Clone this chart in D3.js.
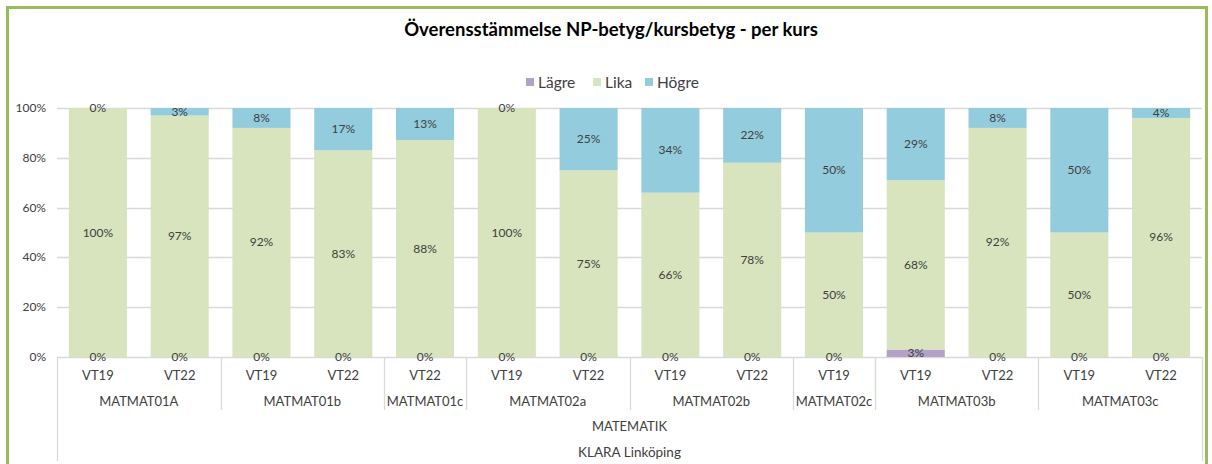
<!DOCTYPE html>
<html>
<head>
<meta charset="utf-8">
<script src="https://cdn.jsdelivr.net/npm/d3@7"></script>
<style>
  body { margin: 0; background: #fff; }
  text { font-family: Lato, "DejaVu Sans", sans-serif; }
</style>
</head>
<body>
<svg id="chart" width="1212" height="464"></svg>
<script>
// data
const groups = ["MATMAT01A", "MATMAT01A", "MATMAT01b", "MATMAT01b", "MATMAT01c", "MATMAT02a", "MATMAT02a",
  "MATMAT02b", "MATMAT02b", "MATMAT02c", "MATMAT03b", "MATMAT03b", "MATMAT03c", "MATMAT03c"]
const terms = ["VT19", "VT22", "VT19", "VT22", "VT22", "VT19", "VT22", "VT19", "VT22", "VT19", "VT19", "VT22", "VT19", "VT22"]
const lagre = [0, 0, 0, 0, 0, 0, 0, 0, 0, 0, 3, 0, 0, 0]
const lika  = [100, 97, 92, 83, 88, 100, 75, 66, 78, 50, 68, 92, 50, 96]
const hogre = [0, 3, 8, 17, 13, 0, 25, 34, 22, 50, 29, 8, 50, 4]
const seriesNames = ["Lägre", "Lika", "Högre"]
const seriesColors = ["#b3a2c7", "#d7e4bd", "#93cddd"]
const yTicks = [0, 0.2, 0.4, 0.6, 0.8, 1]

const svg = d3.select("#chart")
const plot = { left: 57, right: 1202, top: 108, bottom: 357 }
const textColor = "#404040"

// outer border
svg.append("rect")
  .attr("x", 7.5).attr("y", 7.5)
  .attr("width", 1199).attr("height", 480)
  .attr("fill", "none").attr("stroke", "#9bbb59").attr("stroke-width", 3)

svg.append("text").text("Överensstämmelse NP-betyg/kursbetyg - per kurs")
  .attr("x", 611).attr("y", 36)
  .attr("text-anchor", "middle")
  .attr("font-size", "18.5px").attr("font-weight", "bold").attr("fill", "#000")

const rows = terms.map((t, i) => ({ idx: i, Lägre: lagre[i], Lika: lika[i], Högre: hogre[i] }))
const stacked = d3.stack().keys(seriesNames).offset(d3.stackOffsetExpand)(rows)

const x = d3.scaleBand().domain(d3.range(terms.length))
  .range([plot.left, plot.right]).paddingInner(0.29).paddingOuter(0.145)
const y = d3.scaleLinear().domain([0, 1]).range([plot.bottom, plot.top])

// gridlines
svg.append("g").selectAll("line").data(yTicks).join("line")
  .attr("x1", plot.left).attr("x2", plot.right)
  .attr("y1", d => Math.round(y(d)) + 0.5).attr("y2", d => Math.round(y(d)) + 0.5)
  .attr("stroke", "#d9d9d9").attr("stroke-width", 1.3)

svg.append("g").selectAll("text").data(yTicks).join("text")
  .text(d3.format(".0%"))
  .attr("x", 46).attr("y", d => y(d) + 4)
  .attr("text-anchor", "end").attr("font-size", "12px").attr("fill", textColor)

// bars
const layer = svg.append("g").selectAll("g").data(stacked).join("g")
  .attr("fill", (d, i) => seriesColors[i])
layer.selectAll("rect").data(d => d).join("rect")
  .attr("x", (d, i) => x(i)).attr("width", x.bandwidth())
  .attr("y", d => y(d[1])).attr("height", d => y(d[0]) - y(d[1]))

// value labels
stacked.forEach(s => {
  svg.append("g").selectAll("text").data(s).join("text")
    .text(d => d.data[s.key] + "%")
    .attr("x", (d, i) => x(i) + x.bandwidth() / 2)
    .attr("y", d => (y(d[0]) + y(d[1])) / 2 + 4)
    .attr("text-anchor", "middle").attr("font-size", "12px").attr("fill", textColor)
})

// category axis (multi-level)
const axis = svg.append("g")
const step = x.step()
const catX = i => plot.left + step * i
axis.selectAll("text.term").data(terms).join("text")
  .attr("class", "term").text(d => d)
  .attr("x", (d, i) => x(i) + x.bandwidth() / 2).attr("y", 380)
  .attr("text-anchor", "middle").attr("font-size", "13px").attr("fill", textColor)

// group spans
const spans = []
groups.forEach((g, i) => {
  if (spans.length && spans[spans.length - 1].name === g) spans[spans.length - 1].end = i + 1
  else spans.push({ name: g, start: i, end: i + 1 })
})
axis.selectAll("text.grp").data(spans).join("text")
  .attr("class", "grp").text(d => d.name)
  .attr("x", d => (catX(d.start) + catX(d.end)) / 2).attr("y", 406)
  .attr("text-anchor", "middle").attr("font-size", "13px").attr("fill", textColor)

const sepX = spans.slice(1).map(d => catX(d.start))
axis.selectAll("line.sep").data(sepX).join("line")
  .attr("class", "sep")
  .attr("x1", d => Math.round(d) + 0.5).attr("x2", d => Math.round(d) + 0.5)
  .attr("y1", plot.bottom).attr("y2", 410)
  .attr("stroke", "#d9d9d9").attr("stroke-width", 1.3)
axis.selectAll("line.edge").data([plot.left, plot.right]).join("line")
  .attr("class", "edge")
  .attr("x1", d => d + 0.5).attr("x2", d => d + 0.5)
  .attr("y1", plot.bottom).attr("y2", 461)
  .attr("stroke", "#d9d9d9").attr("stroke-width", 1.3)

axis.append("text").text("MATEMATIK")
  .attr("x", (plot.left + plot.right) / 2).attr("y", 431)
  .attr("text-anchor", "middle").attr("font-size", "13px").attr("fill", textColor)
axis.append("text").text("KLARA Linköping")
  .attr("x", (plot.left + plot.right) / 2).attr("y", 457)
  .attr("text-anchor", "middle").attr("font-size", "13.5px").attr("fill", textColor)

// legend
const legendX = [526, 593, 645]
const legend = svg.append("g").selectAll("g").data(seriesNames).join("g")
  .attr("transform", (d, i) => `translate(${legendX[i]}, 82)`)
legend.append("rect").attr("x", 0).attr("y", -4).attr("width", 8).attr("height", 8)
  .attr("fill", (d, i) => seriesColors[i])
legend.append("text").text(d => d)
  .attr("x", 12).attr("y", 5.5)
  .attr("font-size", "15.5px").attr("fill", textColor)
</script>
</body>
</html>
